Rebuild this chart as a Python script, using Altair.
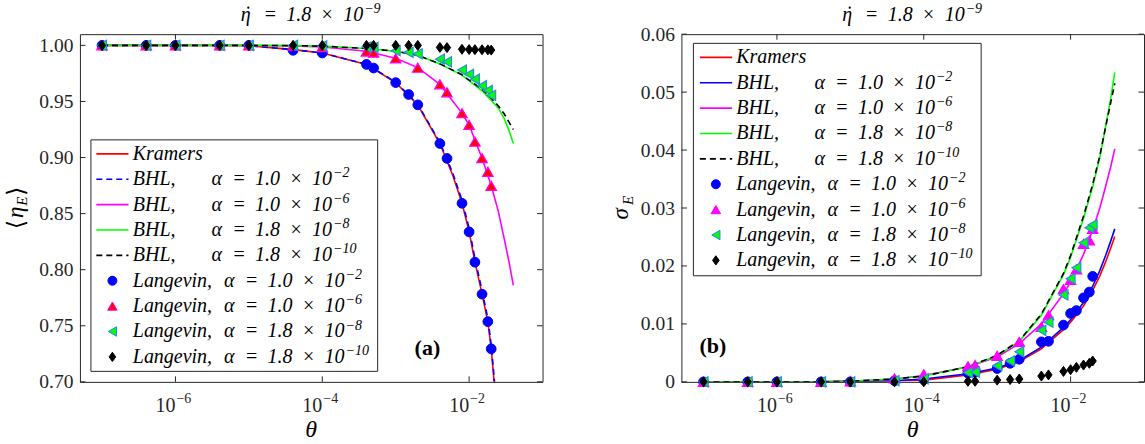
import altair as alt
import pandas as pd

# ---------------- data ----------------
# theta values of the Langevin runs
theta_pts = [1e-7, 4e-7, 1e-6, 4e-6, 1e-5, 4e-5, 1e-4, 4e-4, 5e-4, 1e-3, 1.5e-3, 2e-3,
             4e-3, 5e-3, 8e-3, 1e-2, 1.2e-2, 1.5e-2, 1.8e-2, 2e-2]
theta_tri = [1e-7, 4e-7, 1e-6, 4e-6, 1e-5, 4e-5, 1e-4, 4e-4, 5e-4, 1e-3, 2e-3,
             4e-3, 5e-3, 8e-3, 1e-2, 1.2e-2, 1.5e-2, 1.8e-2, 2e-2]
# theta values of the analytic curves
theta_curve = [1e-7, 4e-7, 1e-6, 4e-6, 1e-5, 4e-5, 1e-4, 4e-4, 1e-3, 2e-3, 4e-3, 8e-3,
               1e-2, 1.5e-2, 2e-2, 2.5e-2, 3e-2, 3.5e-2, 4e-2]
theta_kramers_a = [1e-7, 4e-7, 1e-6, 4e-6, 1e-5, 4e-5, 1e-4, 4e-4, 1e-3, 2e-3, 4e-3, 6e-3,
                   8e-3, 1e-2, 1.2e-2, 1.5e-2, 1.8e-2, 2e-2, 2.19e-2]
theta_bhl2_a = [1e-7, 4e-7, 1e-6, 4e-6, 1e-5, 4e-5, 1e-4, 4e-4, 1e-3, 2e-3, 4e-3, 6e-3,
                8e-3, 1e-2, 1.2e-2, 1.5e-2, 1.8e-2, 2e-2, 2.22e-2]

# panel (a): mean efficiency <eta_E>
kramers_a = [1, 1, 1, 1, 0.9998, 0.9962, 0.9932, 0.9830, 0.9668, 0.9468, 0.9125, 0.8840,
             0.8595, 0.8340, 0.8070, 0.7785, 0.7535, 0.7295, 0.7000]
bhl2_a = [1, 1, 1, 1, 0.9998, 0.9962, 0.9932, 0.9832, 0.9672, 0.9475, 0.9135, 0.8860,
          0.8620, 0.8370, 0.8100, 0.7815, 0.7565, 0.7330, 0.7000]
bhl6_a = [1, 1, 1, 1, 1, 0.9996, 0.9985, 0.9948, 0.9886, 0.9802, 0.9652, 0.9396,
          0.9290, 0.8995, 0.8750, 0.8520, 0.8280, 0.8070, 0.7860]
bhl8_a = [1, 1, 1, 1, 1, 0.9998, 0.9993, 0.9972, 0.9948, 0.9912, 0.9835, 0.9735,
          0.9685, 0.9595, 0.9510, 0.9440, 0.9350, 0.9240, 0.9125]
bhl10_a = [1, 1, 1, 1, 1, 0.9998, 0.9993, 0.9972, 0.9948, 0.9912, 0.9835, 0.9738,
           0.9690, 0.9610, 0.9530, 0.9460, 0.9390, 0.9315, 0.9250]
lan2_a = [1, 1, 1, 1, 1, 0.9956, 0.9932, 0.9830, 0.9798, 0.9668, 0.9562, 0.9470,
          0.9125, 0.8992, 0.8592, 0.8337, 0.8067, 0.7782, 0.7537, 0.7294]
lan6_a = [1, 1, 1, 1, 1, 0.9997, 0.9985, 0.9945, 0.9935, 0.9884, 0.9801,
          0.9653, 0.9582, 0.9395, 0.9291, 0.9141, 0.8995, 0.8873, 0.8748]
lan8_a = [1, 1, 1, 1, 1, 1, 0.9995, 0.9985, 0.9982, 0.9953, 0.9938, 0.9925,
          0.9877, 0.9853, 0.9780, 0.9742, 0.9698, 0.9640, 0.9598, 0.9555]
lan10_a = [1, 1, 1, 1, 1, 1, 1, 1, 1, 1, 1, 1,
           0.9982, 0.9980, 0.9965, 0.9963, 0.9962, 0.9961, 0.9960, 0.9958]

# panel (b): standard deviation sigma_E
kramers_b = [0, 0, 0, 0, 0.0001, 0.0002, 0.0003, 0.0012, 0.0022, 0.0035, 0.0057, 0.0090,
             0.0103, 0.0131, 0.0158, 0.0183, 0.0207, 0.0230, 0.0251]
bhl2_b = [0, 0, 0, 0, 0.0001, 0.0002, 0.0005, 0.0014, 0.0024, 0.0037, 0.0060, 0.0094,
          0.0107, 0.0137, 0.0165, 0.0192, 0.0218, 0.0242, 0.0264]
bhl6_b = [0, 0, 0, 0, 0.0001, 0.0005, 0.0011, 0.0026, 0.0043, 0.0066, 0.0100, 0.0152,
          0.0172, 0.0220, 0.0262, 0.0300, 0.0337, 0.0370, 0.0402]
bhl8_b = [0, 0, 0, 0, 0.0001, 0.0005, 0.0010, 0.0026, 0.0045, 0.0070, 0.0115, 0.0185,
          0.0215, 0.0282, 0.0337, 0.0387, 0.0440, 0.0487, 0.0534]
bhl10_b = [0, 0, 0, 0, 0.0001, 0.0005, 0.0010, 0.0026, 0.0046, 0.0071, 0.0117, 0.0187,
           0.0218, 0.0286, 0.0341, 0.0390, 0.0440, 0.0480, 0.0515]
lan2_b = [0, 0, 0, 0, 0, 0.0002, 0.0004, 0.0015, 0.0017, 0.0023, 0.0032, 0.0039,
          0.0069, 0.0070, 0.0098, 0.0118, 0.0123, 0.0145, 0.0155, 0.0182]
lan6_b = [0, 0, 0, 0, 0.0001, 0.0006, 0.0013, 0.0027, 0.0029, 0.0045, 0.0069,
          0.0095, 0.0115, 0.0160, 0.0176, 0.0194, 0.0238, 0.0244, 0.0264]
lan8_b = [0, 0, 0, 0, 0, 0.0002, 0.0005, 0.0016, 0.0017, 0.0028, 0.0036, 0.0052,
          0.0089, 0.0103, 0.0150, 0.0178, 0.0197, 0.0240, 0.0266, 0.0271]
lan10_b = [0, 0, 0, 0, 0, 0, 0, 0.0001, 0.0001, 0.0003, 0.0004, 0.0005,
           0.0010, 0.0012, 0.0018, 0.0021, 0.0025, 0.0029, 0.0032, 0.0036]

x_ticks = [1e-6, 1e-4, 1e-2]
x_tick_exponents = ["-6", "-4", "-2"]
y_ticks_a = [0.70, 0.75, 0.80, 0.85, 0.90, 0.95, 1.00]
y_ticks_b = [0.0, 0.01, 0.02, 0.03, 0.04, 0.05, 0.06]

# ---------------- style ----------------
W, H = 463, 348
SERIF = "Liberation Serif, Times New Roman, Times, serif"
INK = "#262626"
RED, BLUE, MAG, GRN, BLK = "#ff0000", "#0000ff", "#ff00ff", "#00ff00", "#000000"
EDGE = "#2b8ce6"
DASH = [6, 4]
LW = 1.6
DIAMOND = "M0,-1L0.72,0L0,1L-0.72,0Z"
ONE = pd.DataFrame({"k": [0]})


def x_enc():
    return alt.X("theta:Q",
                 scale=alt.Scale(type="log", domain=[5e-8, 1e-1], nice=False),
                 axis=None)


def y_enc(domain, ticks, label_expr):
    return alt.Y("val:Q", scale=alt.Scale(domain=domain, zero=False, nice=False),
                 axis=alt.Axis(values=ticks, labelExpr=label_expr, title=None,
                               labelPadding=7, labelOverlap=False))


def curve(th, vals, color, X, Y, dash=None):
    kw = dict(color=color, strokeWidth=LW, clip=True)
    if dash:
        kw["strokeDash"] = dash
    df = pd.DataFrame({"theta": th, "val": vals})
    return alt.Chart(df).mark_line(**kw).encode(x=X, y=Y)


def marks(th, vals, shape, fill, stroke, size, X, Y, sw=1.0):
    df = pd.DataFrame({"theta": th, "val": vals})
    return alt.Chart(df).mark_point(shape=shape, filled=True, fill=fill, stroke=stroke,
                                    strokeWidth=sw, size=size, opacity=1).encode(x=X, y=Y)


def frame_ticks(X, Y, yt):
    tx = pd.DataFrame({"theta": x_ticks, "e": [s.replace("-", "\u2212") for s in x_tick_exponents]})
    ty = pd.DataFrame({"val": yt})
    st = dict(color=INK, strokeWidth=1)
    lab = dict(font=SERIF, color=INK, baseline="alphabetic")
    return [
        alt.Chart(tx).mark_rule(**st).encode(x=X, y=alt.value(0), y2=alt.value(5.5)),
        alt.Chart(tx).mark_rule(**st).encode(x=X, y=alt.value(H), y2=alt.value(H - 5.5)),
        alt.Chart(ty).mark_rule(**st).encode(y=Y, x=alt.value(0), x2=alt.value(5.5)),
        alt.Chart(ty).mark_rule(**st).encode(y=Y, x=alt.value(W), x2=alt.value(W - 5.5)),
        # log tick labels: base and raised exponent
        alt.Chart(tx).mark_text(text="10", fontSize=20, align="right", **lab).encode(
            x=X, y=alt.value(H + 30)),
        alt.Chart(tx).mark_text(fontSize=14, align="left", dx=1, **lab).encode(
            x=X, y=alt.value(H + 21), text="e:N"),
    ]


def text(s, x, y, size=20, style="italic", weight="normal", align="left",
         baseline="alphabetic", angle=0, font=SERIF):
    kw = dict(text=s, font=font, fontSize=size, fontStyle=style, fontWeight=weight,
              align=align, baseline=baseline, color=BLK)
    if angle:
        kw["angle"] = angle
    return alt.Chart(ONE).mark_text(**kw).encode(x=alt.value(x), y=alt.value(y))


def dot(x, y):
    return alt.Chart(ONE).mark_point(shape="circle", filled=True, size=5, color=BLK,
                                     opacity=1).encode(x=alt.value(x), y=alt.value(y))


def power_label(a, mant, expo, b):
    """'m x 10^e' laid out piece by piece after a leading symbol at x = a."""
    return [
        text("=", a + 27.5, b, style="normal", align="center"),
        text(mant, a + 56, b, align="center"),
        text("×", a + 84.5, b, style="normal", align="center"),
        text("10", a + 110.5, b, align="center"),
        text(expo.replace("-", "\u2212"), a + 121.5, b - 8, size=14),
    ]


def legend(entries, box, y0, line_x, sym_x, txt_x, a_bhl, a_lan):
    layers = [alt.Chart(ONE).mark_rect(fill="white", stroke=INK, strokeWidth=1).encode(
        x=alt.value(box[0]), x2=alt.value(box[1]), y=alt.value(box[2]), y2=alt.value(box[3]))]
    for i, e in enumerate(entries):
        yy = y0 + i * 25.4
        if e["kind"] == "line":
            kw = dict(color=e["color"], strokeWidth=LW)
            if e.get("dash"):
                kw["strokeDash"] = e["dash"]
            layers.append(alt.Chart(ONE).mark_rule(**kw).encode(
                x=alt.value(line_x[0]), x2=alt.value(line_x[1]), y=alt.value(yy)))
        else:
            layers.append(alt.Chart(ONE).mark_point(
                shape=e["shape"], filled=True, fill=e["fill"], stroke=e["stroke"],
                strokeWidth=1, size=e["size"], opacity=1).encode(
                x=alt.value(sym_x), y=alt.value(yy)))
        layers.append(text(e["name"], txt_x, yy + 6))
        if e.get("mant"):
            ax = a_bhl if e["kind"] == "line" else a_lan
            layers.append(text("α", ax, yy + 6))
            layers += power_label(ax, e["mant"], e["expo"], yy + 6)
    return layers


def title_layers():
    x0 = W / 2 - 70.5
    b = -13.5
    return [text("η", x0, b), dot(x0 + 7.5, b - 13)] + power_label(x0 + 2, "1.8", "-9", b)


def points_entries(tri_fill, tri_stroke):
    return [
        dict(kind="pt", shape="circle", fill=BLUE, stroke=BLUE, size=80,
             name="Langevin,", mant="1.0", expo="-2"),
        dict(kind="pt", shape="triangle-up", fill=tri_fill, stroke=tri_stroke, size=90,
             name="Langevin,", mant="1.0", expo="-6"),
        dict(kind="pt", shape="triangle-left", fill=GRN, stroke=EDGE, size=90,
             name="Langevin,", mant="1.8", expo="-8"),
        dict(kind="pt", shape=DIAMOND, fill=BLK, stroke=BLK, size=85,
             name="Langevin,", mant="1.8", expo="-10"),
    ]


def line_entries(bhl2_dash):
    e2 = dict(kind="line", color=BLUE, name="BHL,", mant="1.0", expo="-2")
    if bhl2_dash:
        e2["dash"] = DASH
    return [
        dict(kind="line", color=RED, name="Kramers"),
        e2,
        dict(kind="line", color=MAG, name="BHL,", mant="1.0", expo="-6"),
        dict(kind="line", color=GRN, name="BHL,", mant="1.8", expo="-8"),
        dict(kind="line", color=BLK, dash=DASH, name="BHL,", mant="1.8", expo="-10"),
    ]


# ---------------- panel (a) ----------------
Xa = x_enc()
Ya = y_enc([0.70, 1.01], y_ticks_a, "format(datum.value, '.2f')")
layers_a = [
    curve(theta_kramers_a, kramers_a, RED, Xa, Ya),
    curve(theta_bhl2_a, bhl2_a, BLUE, Xa, Ya, DASH),
    curve(theta_curve, bhl6_a, MAG, Xa, Ya),
    curve(theta_curve, bhl8_a, GRN, Xa, Ya),
    curve(theta_curve, bhl10_a, BLK, Xa, Ya, DASH),
    marks(theta_pts, lan2_a, "circle", BLUE, BLUE, 95, Xa, Ya),
    marks(theta_tri, lan6_a, "triangle-up", RED, MAG, 110, Xa, Ya, 1.2),
    marks(theta_pts, lan8_a, "triangle-left", GRN, EDGE, 105, Xa, Ya, 1.2),
    marks(theta_pts, lan10_a, DIAMOND, BLK, BLK, 100, Xa, Ya),
] + frame_ticks(Xa, Ya, y_ticks_a)

layers_a += legend(line_entries(True) + points_entries(RED, MAG),
                   (11, 298, 105.8, 337.5), 119.8, (16.4, 48.6), 32.5, 52.9, 131.8, 144.3)
layers_a += title_layers() + [
    text("(a)", 347.8, 321, size=22, style="normal", weight="bold", align="center"),
    text("θ", W / 2, 403.5, size=24, align="center"),
    text("⟨", -56, 190.5, size=24, style="normal", align="center", angle=270,
         font="DejaVu Serif"),
    text("η", -57, 178.2, size=23, align="center", angle=270),
    text("E", -53, 167.2, size=15, align="center", angle=270),
    text("⟩", -56, 157.2, size=24, style="normal", align="center", angle=270,
         font="DejaVu Serif"),
    # fixes the outer margin of the figure
    alt.Chart(ONE).mark_rule(strokeOpacity=0).encode(
        x=alt.value(-79.5), x2=alt.value(-79), y=alt.value(-33.5), y2=alt.value(-33)),
]
panel_a = alt.layer(*layers_a).properties(width=W, height=H)

# ---------------- panel (b) ----------------
Xb = x_enc()
Yb = y_enc([0, 0.06], y_ticks_b,
           "datum.value == 0 ? '0' : format(datum.value, '.2f')")
layers_b = [
    curve(theta_curve, kramers_b, RED, Xb, Yb),
    curve(theta_curve, bhl2_b, BLUE, Xb, Yb),
    curve(theta_curve, bhl6_b, MAG, Xb, Yb),
    curve(theta_curve, bhl8_b, GRN, Xb, Yb),
    curve(theta_curve, bhl10_b, BLK, Xb, Yb, DASH),
    marks(theta_pts, lan2_b, "circle", BLUE, BLUE, 95, Xb, Yb),
    marks(theta_tri, lan6_b, "triangle-up", MAG, MAG, 110, Xb, Yb, 1.2),
    marks(theta_pts, lan8_b, "triangle-left", GRN, EDGE, 105, Xb, Yb, 1.2),
    marks(theta_pts, lan10_b, DIAMOND, BLK, BLK, 100, Xb, Yb),
] + frame_ticks(Xb, Yb, y_ticks_b)

layers_b += legend(line_entries(False) + points_entries(MAG, MAG),
                   (12, 300, 9.2, 241.8), 23.2, (18.5, 50.8), 34.5, 54.9, 133.2, 146.3)
layers_b += title_layers() + [
    text("(b)", 31.5, 319.5, size=22, style="normal", weight="bold", align="center"),
    text("θ", W / 2, 403.5, size=24, align="center"),
    text("σ", -53, 179.8, size=23, align="center", angle=270),
    text("E", -48, 166.5, size=15, align="center", angle=270),
]
panel_b = alt.layer(*layers_b).properties(width=W, height=H)

chart = (
    alt.hconcat(panel_a, panel_b, spacing=139, bounds="flush")
    .properties(padding=0)
    .configure_view(stroke=INK, strokeWidth=1)
    .configure_axis(domain=False, ticks=False, grid=False, labelFont=SERIF,
                    labelFontSize=19.5, labelColor=INK)
)

chart.save("out.html", embed_options={"renderer": "svg", "actions": False})
